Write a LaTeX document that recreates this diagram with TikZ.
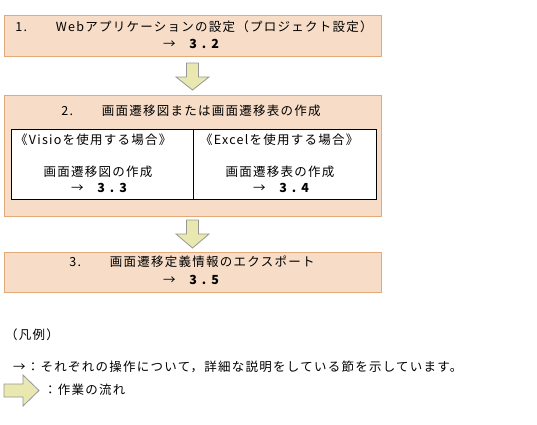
\documentclass[tikz,border=0pt]{standalone}
\usepackage{fontspec}
\setmainfont{Noto Sans CJK JP}[LetterSpace=10]
\definecolor{boxfill}{RGB}{247,221,199}
\definecolor{boxline}{RGB}{226,170,120}
\definecolor{arrfill}{RGB}{232,232,176}
\definecolor{arrline}{RGB}{150,150,150}
\newcommand\refno[1]{{\bfseries\addfontfeature{LetterSpace=40}#1}}
\begin{document}
\begin{tikzpicture}[x=1pt,y=-1pt,
  stepbox/.style={draw=boxline,fill=boxfill,line width=1pt,inner sep=0pt,anchor=north west},
  cellbox/.style={draw=black,fill=white,line width=1pt,inner sep=0pt,anchor=north west},
  flow/.style={draw=arrline,fill=arrfill,line width=0.8pt},
  txt/.style={inner sep=0pt,font=\fontsize{12.5}{19}\selectfont}]
\useasboundingbox (0,0) rectangle (537,424);
% step boxes
\node[stepbox,minimum width=377pt,minimum height=41pt] (box1) at (4,15) {};
\node[stepbox,minimum width=377pt,minimum height=121pt] (box2) at (4,95) {};
\node[stepbox,minimum width=377pt,minimum height=40pt] (box3) at (4,252) {};
\node[cellbox,minimum width=182pt,minimum height=70pt] (cellL) at (11,129) {};
\node[cellbox,minimum width=183pt,minimum height=70pt] (cellR) at (193,129) {};
% texts
\node[txt] (t1a) at (194,27) {1.　　Webアプリケーションの設定（プロジェクト設定）};
\node[txt] (t1b) at (191,44) {→　\refno{3.2}};
\node[txt] (t2) at (191,111) {2.　　画面遷移図または画面遷移表の作成};
\node[txt,anchor=west] (vl) at (15,140) {《Visioを使用する場合》};
\node[txt] (vl2) at (98,172) {画面遷移図の作成};
\node[txt] (vl3) at (99,188) {→　\refno{3.3}};
\node[txt,anchor=west] (ex) at (200,140) {《Excelを使用する場合》};
\node[txt] (ex2) at (280,172) {画面遷移表の作成};
\node[txt] (ex3) at (281,188) {→　\refno{3.4}};
\node[txt] (t3a) at (192,262) {3.　　画面遷移定義情報のエクスポート};
\node[txt] (t3b) at (191,280) {→　\refno{3.5}};
% flow arrows
\draw[flow] (186.5,63) -- (198.5,63) -- (198.5,77) -- (209,77) -- (192.5,90)
  -- (176,77) -- (186.5,77) -- cycle;
\draw[flow] (186.5,220) -- (198.5,220) -- (198.5,234) -- (209,234) -- (192.5,248)
  -- (176,234) -- (186.5,234) -- cycle;
% legend
\node[txt,anchor=west] (legt) at (5,335) {（凡例）};
\node[txt,anchor=west] (leg1) at (13,367) {→：それぞれの操作について，詳細な説明をしている節を示しています。};
\draw[flow] (4,384) -- (23,384) -- (23,375) -- (39,390.5) -- (23,406) -- (23,397)
  -- (4,397) -- cycle;
\node[txt,anchor=west] (leg2) at (44,390) {：作業の流れ};
\end{tikzpicture}
\end{document}
